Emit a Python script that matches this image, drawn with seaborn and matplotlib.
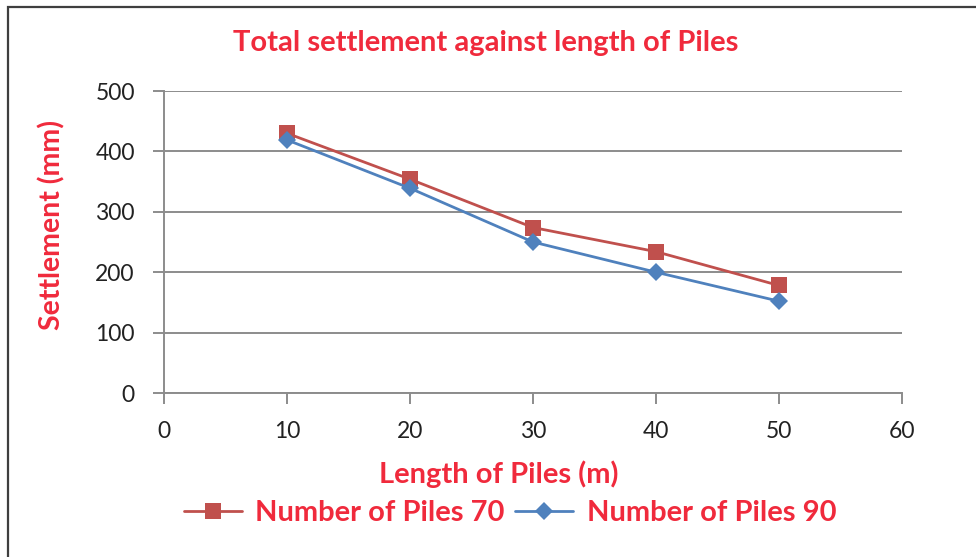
import matplotlib
matplotlib.use("Agg")
import matplotlib.pyplot as plt
import seaborn as sns
import pandas as pd
from matplotlib.patches import Rectangle

lengths = [10, 20, 30, 40, 50]
piles70 = [430, 354, 274, 234, 178]
piles90 = [419, 339, 250, 200, 152]
series_names = ["Number of Piles 70", "Number of Piles 90"]
x_ticks = [0, 10, 20, 30, 40, 50, 60]
y_ticks = [0, 100, 200, 300, 400, 500]

df = pd.DataFrame({
    "Length": lengths * 2,
    "Settlement": piles70 + piles90,
    "Series": [series_names[0]] * len(lengths) + [series_names[1]] * len(lengths),
})

sns.set_theme(style="white")
plt.rcParams['font.family'] = ['Lato', 'DejaVu Sans']

W, H = 976, 557
RED_TXT = "#F02A3C"
fig = plt.figure(figsize=(W / 100, H / 100), dpi=100)
ax = fig.add_axes([164 / W, 1 - 393 / H, 738 / W, 302 / H])

palette = {series_names[0]: "#C0504D", series_names[1]: "#4F81BD"}
markers = {series_names[0]: "s", series_names[1]: "D"}
sizes = {series_names[0]: 12, series_names[1]: 9.5}
for name in series_names:
    sub = df[df["Series"] == name]
    sns.lineplot(data=sub, x="Length", y="Settlement", ax=ax, color=palette[name],
                 marker=markers[name], markersize=sizes[name], markeredgewidth=0,
                 linewidth=2, label=name)

ax.set_xlim(0, 60)
ax.set_ylim(0, 500)
ax.set_xticks(x_ticks)
ax.set_yticks(y_ticks)
ax.yaxis.grid(True, color="#8C8C8C", linewidth=1.4)
ax.xaxis.grid(False)
for s in ["top", "right"]:
    ax.spines[s].set_visible(False)
for s in ["left", "bottom"]:
    ax.spines[s].set_color("#8C8C8C")
    ax.spines[s].set_linewidth(1.4)
ax.tick_params(axis="both", which="both", length=8, width=1.4, color="#8C8C8C",
               direction="out", labelsize=16.5, labelcolor="#222222")
ax.tick_params(axis="y", left=True, pad=13)
ax.tick_params(axis="x", bottom=True, pad=12)

ax.set_xlabel("Length of Piles (m)", color=RED_TXT, fontsize=21, fontweight="bold", va="center")
ax.xaxis.set_label_coords((499 - 164) / 738, (393 - 474) / 302)
ax.set_ylabel("Settlement (mm)", color=RED_TXT, fontsize=20.5, fontweight="bold", va="center")
ax.yaxis.set_label_coords((52 - 164) / 738, (393 - 225) / 302)
fig.text(486 / W, 1 - 43 / H, "Total settlement against length of Piles", color=RED_TXT,
         fontsize=21, fontweight="bold", ha="center", va="center")

leg = ax.legend(loc="center", bbox_to_anchor=(510 / W, 1 - 513 / H), bbox_transform=fig.transFigure,
                ncol=2, frameon=False, fontsize=21, handlelength=2.0, columnspacing=0.35,
                handletextpad=0.45, borderpad=0, borderaxespad=0)
for t in leg.get_texts():
    t.set_color(RED_TXT)
    t.set_fontweight("bold")

fig.patches.append(Rectangle((8 / W, -0.05), 1.2, 1 - 7 / H + 0.05, transform=fig.transFigure,
                             fill=False, edgecolor="#3F3F3F", linewidth=1.6))

fig.savefig("out.png", dpi=100)
